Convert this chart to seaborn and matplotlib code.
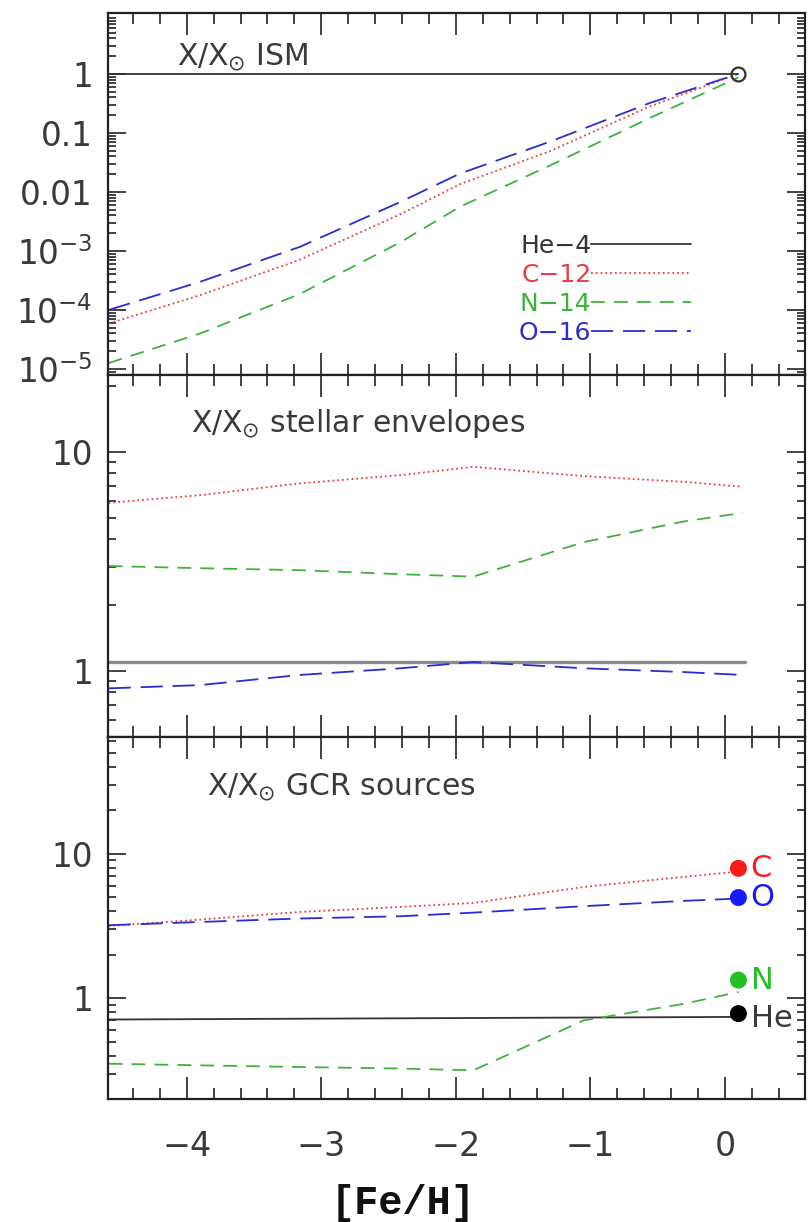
import matplotlib
matplotlib.use("Agg")  # pas de fenêtre
import matplotlib.pyplot as plt
from matplotlib.ticker import FixedLocator, FixedFormatter, LogLocator, MultipleLocator, NullFormatter
import seaborn as sns

sns.set_theme(style="ticks")
plt.rcParams["font.family"] = ["DejaVu Sans"]
plt.rcParams["mathtext.fontset"] = "dejavusans"

# ---------------------------------------------------------------- data
# panel 1 : ISM abundances relative to solar
ism_feh = [-4.58, -3.90, -3.16, -2.41, -1.97, -1.30, -0.56, 0.10]
ism_he4_feh = [-4.58, 0.10]
ism_he4 = [1.0, 1.0]
ism_c12 = [5.9e-5, 1.78e-4, 7.1e-4, 4.2e-3, 1.35e-2, 4.9e-2, 0.28, 1.0]
ism_n14 = [1.26e-5, 4.0e-5, 1.86e-4, 1.41e-3, 5.6e-3, 2.8e-2, 0.178, 0.87]
ism_o16 = [1.0e-4, 3.0e-4, 1.17e-3, 6.8e-3, 2.04e-2, 7.1e-2, 0.32, 1.0]
sun_feh, sun_val = [0.10], [1.0]

# panel 2 : stellar envelopes
env_feh = [-4.58, -3.90, -3.16, -2.41, -1.87, -1.05, -0.31, 0.13]
env_he4_feh = [-4.58, 0.15]
env_he4 = [1.10, 1.10]
env_c12 = [5.87, 6.36, 7.2, 7.85, 8.57, 7.77, 7.32, 6.95]
env_n14 = [3.02, 2.95, 2.89, 2.77, 2.70, 3.88, 4.82, 5.28]
env_o16 = [0.834, 0.863, 0.96, 1.03, 1.10, 1.03, 0.99, 0.96]

# panel 3 : GCR sources
gcr_feh = [-4.58, -3.90, -3.16, -2.41, -1.87, -1.05, -0.31, 0.10]
gcr_he4_feh = [-4.58, 0.10]
gcr_he4 = [0.71, 0.74]
gcr_c12 = [3.15, 3.49, 3.94, 4.27, 4.55, 5.87, 6.89, 7.5]
gcr_n14 = [0.351, 0.342, 0.333, 0.325, 0.316, 0.70, 0.91, 1.10]
gcr_o16 = [3.19, 3.36, 3.55, 3.68, 3.90, 4.32, 4.70, 4.88]
src_feh = 0.10
src_names = ["C", "O", "N", "He"]
src_vals = [7.9, 4.96, 1.33, 0.78]

legend_labels = ["He\u22124", "C\u221212", "N\u221214", "O\u221216"]
ism_ticks = [1e-5, 1e-4, 1e-3, 1e-2, 0.1, 1]
ism_ticklabels = [r"$10^{-5}$", r"$10^{-4}$", r"$10^{-3}$", "0.01", "0.1", "1"]

# ---------------------------------------------------------------- styles
C_HE, C_C, C_N, C_O = "#333333", "#ee3a44", "#3cb43c", "#2c2cd0"
DOT = {"C": "#ff1a1a", "O": "#1a1aff", "N": "#22c022", "He": "#000000"}
TXT = "#3a3a3a"
LW = 1.3


def draw(ax, x, y, color, kind, label=None, lw=LW):
    sns.lineplot(x=x, y=y, color=color, lw=lw, label=label, ax=ax,
                 sort=False, estimator=None, legend=False)
    ln = ax.lines[-1]
    if kind == "dot":
        ln.set_linestyle(":")
    elif kind == "dash":
        ln.set_dashes((10 / lw, 6.5 / lw))
    elif kind == "long":
        ln.set_dashes((16 / lw, 7 / lw))
    return ln


fig = plt.figure(figsize=(8.12, 12.22), dpi=100)
L, W, H = 0.1330, 0.8584, 0.2962
ax1 = fig.add_axes([L, 0.6931, W, H])
ax2 = fig.add_axes([L, 0.3969, W, H], sharex=ax1)
ax3 = fig.add_axes([L, 0.10065, W, H], sharex=ax1)

for ax in (ax1, ax2, ax3):
    ax.set_yscale("log")

# ISM
draw(ax1, ism_he4_feh, ism_he4, C_HE, "solid", legend_labels[0])
draw(ax1, ism_feh, ism_c12, C_C, "dot", legend_labels[1])
draw(ax1, ism_feh, ism_n14, C_N, "dash", legend_labels[2])
draw(ax1, ism_feh, ism_o16, C_O, "long", legend_labels[3])
ax1.plot(sun_feh, sun_val, marker="o", ms=10, mfc="none", mec="#333333", mew=1.6, ls="none")
leg = ax1.legend(loc="upper right", bbox_to_anchor=(0.855, 0.425), frameon=False,
                 markerfirst=False, labelcolor="linecolor", fontsize=18,
                 handlelength=4.0, handletextpad=0.0, labelspacing=0.2, borderpad=0)

# envelopes
draw(ax2, env_he4_feh, env_he4, "#8c8c8c", "solid", lw=2.4)
draw(ax2, env_feh, env_c12, C_C, "dot")
draw(ax2, env_feh, env_n14, C_N, "dash")
draw(ax2, env_feh, env_o16, C_O, "long")

# GCR sources
draw(ax3, gcr_he4_feh, gcr_he4, C_HE, "solid")
draw(ax3, gcr_feh, gcr_c12, C_C, "dot")
draw(ax3, gcr_feh, gcr_n14, C_N, "dash")
draw(ax3, gcr_feh, gcr_o16, C_O, "long")
sns.scatterplot(x=[src_feh] * len(src_vals), y=src_vals, hue=src_names,
                palette=DOT, s=150, edgecolor="none", legend=False, ax=ax3, zorder=5)
for name, v in zip(src_names, src_vals):
    dy = 0.93 if name == "He" else 1.0
    ax3.text(src_feh + 0.09, v * dy, name, color=DOT[name] if name != "He" else TXT,
             fontsize=22, va="center", ha="left")

# titles
title = r"X/X$_{\odot}$ "
ax1.text(0.099, 0.856, title + "ISM", transform=ax1.transAxes, fontsize=21.5, color=TXT)
ax2.text(0.119, 0.843, title + "stellar envelopes", transform=ax2.transAxes, fontsize=21.5, color=TXT)
ax3.text(0.142, 0.840, title + "GCR sources", transform=ax3.transAxes, fontsize=21.5, color=TXT)

# axes
ax1.set_xlim(-4.585, 0.595)
ax1.set_ylim(7.9e-6, 10.7)
ax2.set_ylim(0.5, 22.5)
ax3.set_ylim(0.2, 64)

ax1.yaxis.set_major_locator(FixedLocator(ism_ticks))
ax1.yaxis.set_major_formatter(FixedFormatter(ism_ticklabels))
for ax in (ax2, ax3):
    ax.yaxis.set_major_locator(FixedLocator([1, 10]))
    ax.yaxis.set_major_formatter(FixedFormatter(["1", "10"]))

for ax in (ax1, ax2, ax3):
    ax.yaxis.set_minor_locator(LogLocator(base=10, subs=range(2, 10), numticks=20))
    ax.yaxis.set_minor_formatter(NullFormatter())
    ax.xaxis.set_major_locator(MultipleLocator(1))
    ax.xaxis.set_minor_locator(MultipleLocator(0.2))
    ax.tick_params(axis="both", which="both", direction="in", top=True, right=True,
                   width=1.2, color="#222222")
    ax.tick_params(axis="x", which="major", length=16)
    ax.tick_params(axis="x", which="minor", length=8)
    ax.tick_params(axis="y", which="major", length=13, labelsize=23.5, labelcolor=TXT, pad=11)
    ax.tick_params(axis="y", which="minor", length=6)
    for sp in ax.spines.values():
        sp.set_linewidth(1.6)
        sp.set_color("#222222")
    ax.set_xlabel("")
    ax.set_ylabel("")

for ax in (ax1, ax2):
    ax.tick_params(axis="x", labelbottom=False)
ax3.tick_params(axis="x", which="major", labelsize=24, labelcolor=TXT, pad=22)

fig.text(403 / 812, 1 - 1203 / 1222, "[Fe/H]", family="Liberation Mono", weight="bold",
         fontsize=29, ha="center", va="center", color="#111111")

fig.savefig("out.png", dpi=100)
